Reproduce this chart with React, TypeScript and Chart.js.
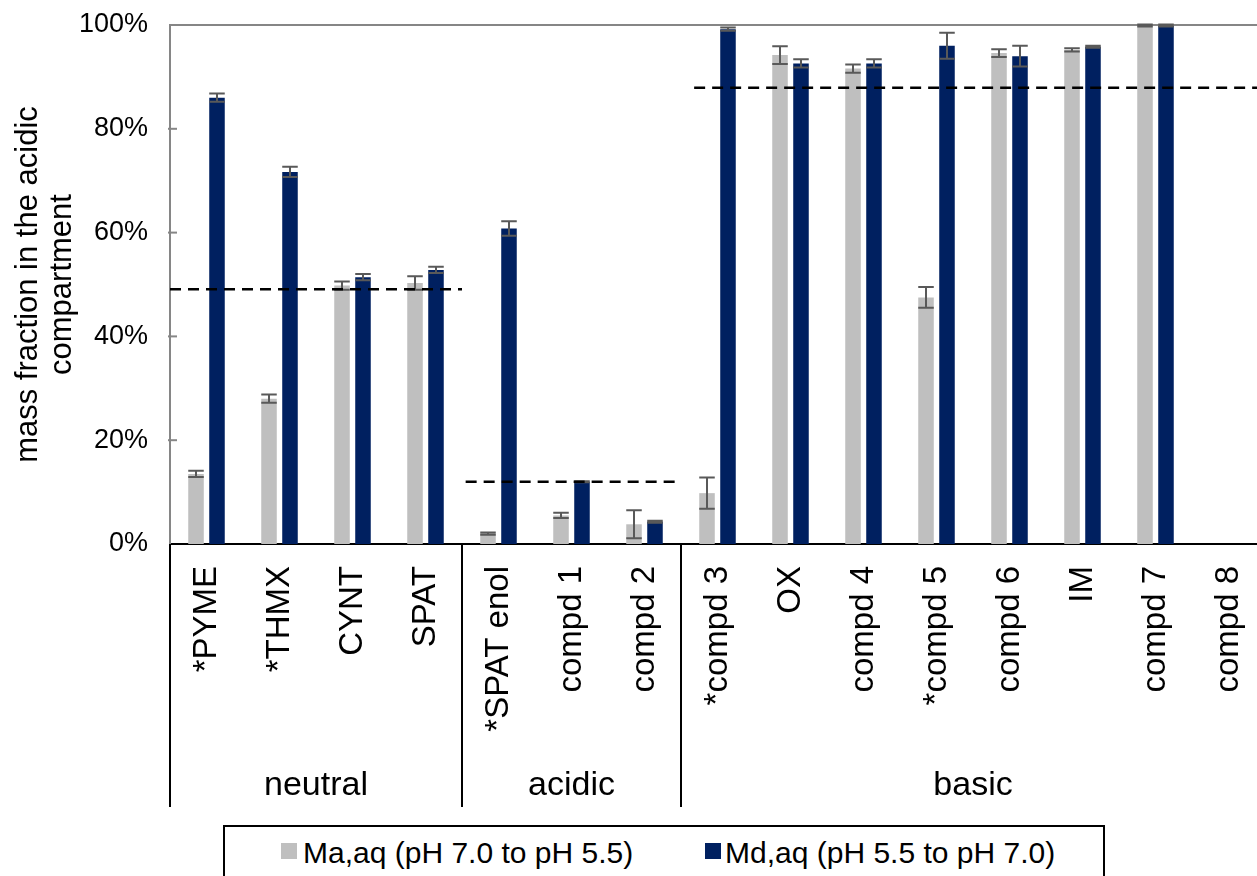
import React, { useEffect, useRef } from "react";
import { Chart, registerables } from "chart.js";

Chart.register(...registerables);

const FONT = '"Liberation Sans", Arial, sans-serif';

const categories = [
  "*PYME", "*THMX", "CYNT", "SPAT",
  "*SPAT enol", "compd 1", "compd 2",
  "*compd 3", "OX", "compd 4", "*compd 5", "compd 6", "IM", "compd 7", "compd 8",
];
const maValues = [13.5, 28.0, 49.8, 50.3, 2.0, 5.5, 3.8, 9.8, 94.2, 91.6, 47.5, 94.6, 95.2, 99.9, null];
const maErrors = [0.6, 0.8, 0.8, 1.3, 0.2, 0.5, 2.7, 3.0, 1.7, 0.8, 2.0, 0.75, 0.3, 0.2, null];
const mdValues = [86.0, 71.7, 51.4, 52.8, 60.8, 12.0, 4.3, 99.2, 92.6, 92.6, 96.0, 94.0, 95.8, 99.9, null];
const mdErrors = [0.8, 1.0, 0.6, 0.6, 1.4, 0.1, 0.2, 0.3, 0.8, 0.8, 2.5, 2.0, 0.2, 0.2, null];

const groupNames = ["neutral", "acidic", "basic"];
const groupFirst = [0, 4, 7];
const groupLast = [3, 6, 14];
const groupLevels = [49.1, 12.0, 87.9];

const yTicks = [0, 20, 40, 60, 80, 100];
const seriesLabels = ["Ma,aq (pH 7.0 to pH 5.5)", "Md,aq (pH 5.5 to pH 7.0)"];
const seriesColors = ["#BFBFBF", "#002060"];

const errorSets = [maErrors, mdErrors];

const decorPlugin = {
  id: "decor",
  afterDatasetsDraw(chart: any) {
    const { ctx, chartArea } = chart;
    const x = chart.scales.x;
    const y = chart.scales.y;
    ctx.save();

    // top border line at 100%
    ctx.strokeStyle = "#868686";
    ctx.lineWidth = 2;
    ctx.beginPath();
    ctx.moveTo(chartArea.left, y.getPixelForValue(100));
    ctx.lineTo(chartArea.right, y.getPixelForValue(100));
    ctx.stroke();

    // inside tick marks on y axis
    yTicks.forEach((v) => {
      if (v === 0 || v === 100) return;
      const py = y.getPixelForValue(v);
      ctx.beginPath();
      ctx.moveTo(chartArea.left - 2, py);
      ctx.lineTo(chartArea.left + 7, py);
      ctx.stroke();
    });

    // error bars
    ctx.strokeStyle = "#595959";
    ctx.lineWidth = 2;
    chart.data.datasets.forEach((ds: any, i: number) => {
      const meta = chart.getDatasetMeta(i);
      meta.data.forEach((bar: any, j: number) => {
        const v = ds.data[j];
        const e = errorSets[i][j];
        if (v == null || e == null) return;
        const { x: bx, width } = bar.getProps(["x", "width"], true);
        const top = y.getPixelForValue(v + e);
        const bot = y.getPixelForValue(v - e);
        const half = width / 2;
        ctx.beginPath();
        ctx.moveTo(bx, top);
        ctx.lineTo(bx, bot);
        ctx.moveTo(bx - half, top);
        ctx.lineTo(bx + half, top);
        ctx.moveTo(bx - half, bot);
        ctx.lineTo(bx + half, bot);
        ctx.stroke();
      });
    });

    // dashed group reference lines
    const starts = [-0.5, 3.55, 6.68];
    const ends = [3.5, 6.5, 14.6];
    ctx.strokeStyle = "#000";
    ctx.lineWidth = 2.5;
    ctx.setLineDash([11, 7]);
    groupLevels.forEach((lv, g) => {
      const py = y.getPixelForValue(lv);
      const step = x.getPixelForValue(1) - x.getPixelForValue(0);
      const x0 = x.getPixelForValue(0) + starts[g] * step;
      const x1 = x.getPixelForValue(0) + ends[g] * step;
      ctx.beginPath();
      ctx.moveTo(x0, py);
      ctx.lineTo(x1, py);
      ctx.stroke();
    });
    ctx.setLineDash([]);
    ctx.restore();
  },
  afterDraw(chart: any) {
    const { ctx, chartArea } = chart;
    const x = chart.scales.x;
    const step = x.getPixelForValue(1) - x.getPixelForValue(0);
    const bottom = chartArea.bottom;
    ctx.save();
    ctx.strokeStyle = "#000";
    ctx.lineWidth = 2;
    const seps: number[] = [];
    groupFirst.forEach((f) => seps.push(x.getPixelForValue(f) - step / 2));
    seps.push(x.getPixelForValue(groupLast[groupLast.length - 1]) + step / 2);
    seps.forEach((sx) => {
      ctx.beginPath();
      ctx.moveTo(sx, bottom);
      ctx.lineTo(sx, bottom + 263);
      ctx.stroke();
    });
    ctx.fillStyle = "#000";
    ctx.font = `34px ${FONT}`;
    ctx.textAlign = "center";
    ctx.textBaseline = "middle";
    groupNames.forEach((name, g) => {
      const cx = (x.getPixelForValue(groupFirst[g]) + x.getPixelForValue(groupLast[g])) / 2;
      ctx.fillText(name, cx, bottom + 242);
    });
    ctx.restore();
  },
};

export default function App() {
  const canvasRef = useRef<HTMLCanvasElement | null>(null);

  useEffect(() => {
    if (!canvasRef.current) return;
    const chart = new Chart(canvasRef.current, {
      type: "bar",
      data: {
        labels: categories,
        datasets: [
          { label: seriesLabels[0], data: maValues, backgroundColor: seriesColors[0], borderWidth: 0 },
          { label: seriesLabels[1], data: mdValues, backgroundColor: seriesColors[1], borderWidth: 0 },
        ],
      },
      options: {
        animation: false,
        responsive: true,
        maintainAspectRatio: false,
        layout: { padding: { top: 25, left: 0, right: 0, bottom: 0 } },
        datasets: { bar: { categoryPercentage: 0.575, barPercentage: 0.74 } },
        plugins: { legend: { display: false }, tooltip: { enabled: false } },
        scales: {
          x: {
            type: "category",
            grid: { display: false, drawTicks: false },
            border: { display: true, color: "#000", width: 2 },
            ticks: {
              autoSkip: false,
              minRotation: 90,
              maxRotation: 90,
              padding: 22,
              color: "#000",
              font: { family: FONT, size: 33 },
            },
            afterFit: (s: any) => {
              s.height = 332;
              s.paddingLeft = 0;
              s.paddingRight = 0;
            },
          },
          y: {
            min: 0,
            max: 100,
            afterBuildTicks: (s: any) => {
              s.ticks = yTicks.map((v) => ({ value: v }));
            },
            ticks: {
              callback: (v: any) => v + "%",
              padding: 22,
              color: "#000",
              font: { family: FONT, size: 27 },
            },
            grid: { display: false, drawTicks: false },
            border: { display: true, color: "#868686", width: 2 },
            title: {
              display: true,
              text: ["mass fraction in the acidic", "compartment"],
              color: "#000",
              font: { family: FONT, size: 31, lineHeight: 1.08 },
              padding: { top: 12, bottom: 0 },
            },
            afterFit: (s: any) => {
              s.width = 170;
              s.paddingTop = 0;
              s.paddingBottom = 0;
            },
          },
        },
      },
      plugins: [decorPlugin],
    });
    return () => chart.destroy();
  }, []);

  const textStyle: React.CSSProperties = {
    position: "absolute",
    top: 838,
    fontFamily: FONT,
    fontSize: 30,
    lineHeight: "30px",
    color: "#000",
    whiteSpace: "nowrap",
  };

  return (
    <div style={{ position: "fixed", left: 0, top: 0, width: 1257, height: 876, overflow: "hidden", background: "#fff" }}>
      <div style={{ position: "absolute", left: 0, top: 0, width: 1265, height: 876 }}>
        <canvas ref={canvasRef} />
      </div>
      <div
        style={{
          position: "absolute",
          left: 223,
          top: 825,
          width: 882,
          height: 80,
          border: "2px solid #000",
          boxSizing: "border-box",
          background: "#fff",
        }}
      />
      <div style={{ position: "absolute", left: 281, top: 843, width: 16, height: 16, background: seriesColors[0] }} />
      <span style={{ ...textStyle, left: 303 }}>{seriesLabels[0]}</span>
      <div style={{ position: "absolute", left: 705, top: 843, width: 16, height: 16, background: seriesColors[1] }} />
      <span style={{ ...textStyle, left: 725 }}>{seriesLabels[1]}</span>
    </div>
  );
}
